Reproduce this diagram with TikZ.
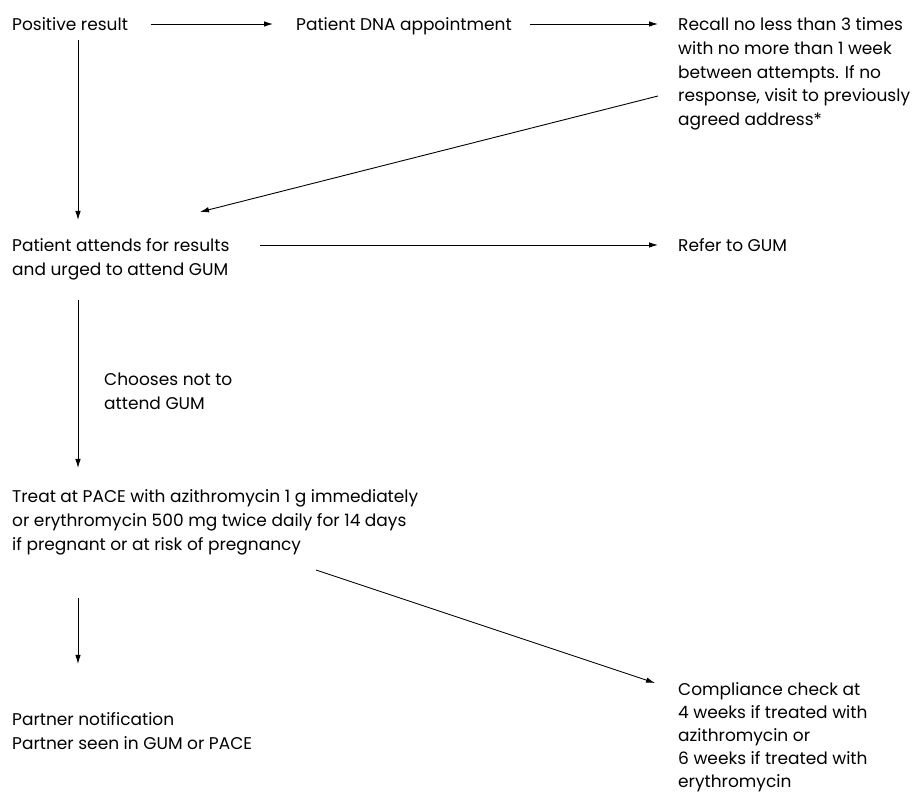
\documentclass[tikz,border=0pt]{standalone}
\usepackage{fontspec}
\setmainfont{Poppins}
\usetikzlibrary{arrows.meta}
\begin{document}
\begin{tikzpicture}[x=1pt,y=1pt,
  txt/.style={anchor=base west,inner sep=0pt,align=left,font=\fontsize{17}{23.6}\selectfont},
  arr/.style={line width=0.9pt,-{Latex[length=9pt,width=5.5pt]}}]
\useasboundingbox (0,0) rectangle (914,795);
% base anchor = baseline of the last line
\node[txt] (pos) at (12,764) {Positive result};
\node[txt] (dna) at (296,764) {Patient DNA appointment};
\node[txt] (rec) at (678,669.6) {Recall no less than 3 times\\with no more than 1 week\\between attempts. If no\\response, visit to previously\\agreed address*};
\node[txt] (att) at (12,519.4) {Patient attends for results\\and urged to attend GUM};
\node[txt] (ref) at (678,543) {Refer to GUM};
\node[txt] (cho) at (104,385.4) {Chooses not to\\attend GUM};
\node[txt] (trt) at (12,244.8) {Treat at PACE with azithromycin 1 g immediately\\or erythromycin 500 mg twice daily for 14 days\\if pregnant or at risk of pregnancy};
\node[txt] (par) at (12,45.4) {Partner notification\\Partner seen in GUM or PACE};
\node[txt,font=\fontsize{17}{23}\selectfont] (cmp) at (678,7) {Compliance check at\\4 weeks if treated with\\azithromycin or\\6 weeks if treated with\\erythromycin};
\draw[arr] ([shift={(23,7)}]pos.base east) -- ([shift={(-23,7)}]dna.base west);
\draw[arr] ([shift={(18,7)}]dna.base east) -- ([shift={(-20,101.4)}]rec.base west);
\draw[arr] ([shift={(66,-9)}]pos.base west) -- ([shift={(66,55.6)}]att.base west);
\draw[arr] ([shift={(-20,29.4)}]rec.base west) -- ([shift={(188,63.6)}]att.base west);
\draw[arr] ([shift={(248,30.6)}]att.base west) -- ([shift={(-20,7)}]ref.base west);
\draw[arr] ([shift={(66,-24.4)}]att.base west) -- ([shift={(66,82.2)}]trt.base west);
\draw[arr] ([shift={(66,-47.8)}]trt.base west) -- ([shift={(66,85.6)}]par.base west);
\draw[arr] ([shift={(304,-19.8)}]trt.base west) -- ([shift={(-23,105)}]cmp.base west);
\end{tikzpicture}
\end{document}
